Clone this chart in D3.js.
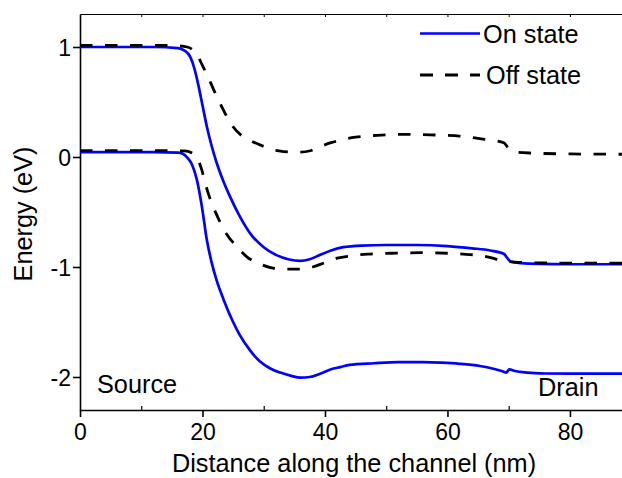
<!DOCTYPE html>
<html>
<head>
<meta charset="utf-8">
<script src="https://cdn.jsdelivr.net/npm/d3@7"></script>
<style>
  html, body { margin: 0; padding: 0; background: #fff; }
  svg { display: block; font-family: "Liberation Sans", Arial, Helvetica, sans-serif; }
</style>
</head>
<body>
<svg id="chart" width="622" height="478"></svg>
<script>
// Band edges along the channel, [position (nm), energy (eV)]
const onUpper = [
  [0, 1.0], [12, 1.0], [16, 0.99], [17, 0.97], [18, 0.91], [18.7, 0.80], [19.3, 0.66],
  [20, 0.47], [20.7, 0.28], [21.5, 0.10], [22.3, -0.05], [23.2, -0.19], [24.5, -0.36],
  [26, -0.53], [28, -0.71], [30, -0.82], [32, -0.89], [34, -0.93], [36, -0.945],
  [37.5, -0.93], [39, -0.895], [41, -0.85], [43, -0.82], [46, -0.805], [50, -0.80],
  [55, -0.80], [60, -0.81], [64, -0.83], [67, -0.85], [69.2, -0.88], [69.8, -0.92],
  [70.3, -0.95], [72, -0.965], [75, -0.972], [80, -0.975], [88.5, -0.975]
];
const onLower = [
  [0, 0.045], [12, 0.045], [16, 0.04], [16.8, 0.03], [17.6, -0.01], [18.3, -0.07],
  [19.1, -0.21], [19.9, -0.45], [20.7, -0.75], [21.5, -0.96], [22.3, -1.12], [23.4, -1.29],
  [25, -1.50], [26.1, -1.62], [27.8, -1.76], [29.4, -1.86], [31, -1.92], [32.7, -1.96],
  [34.5, -1.99], [36, -2.005], [37.5, -2.0], [39.2, -1.97], [41, -1.93], [42.5, -1.91],
  [44, -1.89], [48, -1.875], [52, -1.865], [56, -1.865], [59, -1.87], [62, -1.88],
  [65.3, -1.90], [67.5, -1.925], [69.1, -1.95], [69.6, -1.96], [70.1, -1.93], [71, -1.945],
  [73, -1.96], [76, -1.968], [80, -1.97], [88.5, -1.97]
];
const offUpper = [
  [0, 1.015], [12, 1.015], [16, 1.012], [17.5, 1.0], [18.5, 0.97], [19.3, 0.91],
  [20.1, 0.82], [20.7, 0.755], [21.8, 0.615], [22.6, 0.52], [24, 0.365], [25, 0.275],
  [26.5, 0.19], [27.8, 0.15], [29.4, 0.11], [31, 0.075], [32.5, 0.055], [34.5, 0.045],
  [36, 0.045], [37.6, 0.057], [39, 0.09], [41, 0.13], [43, 0.16], [45, 0.18],
  [48.5, 0.197], [52, 0.205], [55, 0.205], [58, 0.20], [62, 0.19], [65.5, 0.165],
  [67.5, 0.15], [69.2, 0.13], [69.8, 0.09], [70.3, 0.06], [71, 0.045], [74, 0.035],
  [80, 0.028], [88.5, 0.025]
];
const offLower = [
  [0, 0.058], [12, 0.058], [17, 0.055], [18.5, 0.03], [19.3, -0.03], [19.9, -0.12],
  [20.4, -0.23], [21, -0.34], [21.8, -0.46], [22.6, -0.56], [23.7, -0.68], [25.6, -0.815],
  [27.2, -0.905], [29.7, -0.98], [31.5, -1.01], [33.8, -1.02], [35.6, -1.02], [38, -1.0],
  [40, -0.96], [42, -0.92], [44, -0.90], [47, -0.883], [51, -0.875], [55.5, -0.87],
  [60, -0.875], [63, -0.885], [65.3, -0.895], [67.4, -0.92], [69, -0.945], [71, -0.955],
  [74, -0.962], [80, -0.965], [88.5, -0.965]
];

const xMajorTicks = [0, 20, 40, 60, 80];
const xMinorTicks = [10, 30, 50, 70];
const xTopTicks = [10, 20, 30, 40, 50, 60, 70, 80];
const yTicks = [-2, -1, 0, 1];

const svg = d3.select("#chart");
const plotLeft = 80, plotRight = 622, plotTop = 14, plotBottom = 410;

const x = d3.scaleLinear().domain([0, 88.5]).range([plotLeft, plotRight]);
const y = d3.scaleLinear().domain([-2.3, 1.3]).range([plotBottom, plotTop]);

const axisColor = "#000";
const tickFont = 23;
const labelFont = 25.3;

// bottom axis, major ticks outward with labels
const gx = svg.append("g").attr("transform", `translate(0,${plotBottom})`)
  .call(d3.axisBottom(x).tickValues(xMajorTicks).tickSize(7).tickSizeOuter(0)
    .tickFormat(d => String(d)));
gx.select(".domain").attr("stroke-width", 1.6);
gx.selectAll(".tick line").attr("stroke-width", 1.6);
gx.selectAll(".tick text").attr("dy", null).attr("y", 30)
  .attr("font-size", tickFont).attr("fill", "#000");

// bottom minor ticks, inward
const gxm = svg.append("g").attr("transform", `translate(0,${plotBottom})`)
  .call(d3.axisBottom(x).tickValues(xMinorTicks).tickSize(-4).tickSizeOuter(0).tickFormat(""));
gxm.select(".domain").remove();
gxm.selectAll(".tick line").attr("stroke-width", 1.2);

// top frame with small inward ticks
const gt = svg.append("g").attr("transform", `translate(0,${plotTop})`)
  .call(d3.axisTop(x).tickValues(xTopTicks).tickSize(-3).tickSizeOuter(0).tickFormat(""));
gt.select(".domain").attr("stroke-width", 1.2);
gt.selectAll(".tick line").attr("stroke-width", 1);

// left axis
const gy = svg.append("g").attr("transform", `translate(${plotLeft},0)`)
  .call(d3.axisLeft(y).tickValues(yTicks).tickSize(7).tickSizeOuter(0)
    .tickFormat(d => String(d)));
gy.select(".domain").attr("stroke-width", 1.6);
gy.selectAll(".tick line").attr("stroke-width", 1.6);
gy.selectAll(".tick text").attr("x", -9).attr("dy", "0.36em")
  .attr("font-size", tickFont).attr("fill", "#000");

svg.selectAll(".domain, .tick line").attr("stroke", axisColor);

// curves
const line = d3.line().x(d => x(d[0])).y(d => y(d[1])).curve(d3.curveMonotoneX);
const blue = "#0000ff";
const dash = "12.5,12.5";

const plot = svg.append("g");
[onUpper, onLower].forEach(s => {
  plot.append("path").datum(s).attr("d", line)
    .attr("fill", "none").attr("stroke", blue).attr("stroke-width", 2.7)
    .attr("stroke-linejoin", "round");
});
[offUpper, offLower].forEach(s => {
  plot.append("path").datum(s).attr("d", line)
    .attr("fill", "none").attr("stroke", "#000").attr("stroke-width", 2.8)
    .attr("stroke-dasharray", dash);
});

// legend
const legend = svg.append("g");
legend.append("line").attr("x1", 420).attr("x2", 480).attr("y1", 33.5).attr("y2", 33.5)
  .attr("stroke", blue).attr("stroke-width", 2.7);
legend.append("text").attr("x", 483).attr("y", 43).attr("font-size", labelFont)
  .text("On state");
legend.append("line").attr("x1", 420).attr("x2", 480).attr("y1", 75).attr("y2", 75)
  .attr("stroke", "#000").attr("stroke-width", 2.8).attr("stroke-dasharray", "13,12");
legend.append("text").attr("x", 486).attr("y", 84).attr("font-size", labelFont)
  .text("Off state");

// region labels
svg.append("text").attr("x", 97).attr("y", 393).attr("font-size", labelFont).text("Source");
svg.append("text").attr("x", 538).attr("y", 396).attr("font-size", labelFont).text("Drain");

// axis titles
svg.append("text").attr("x", 354).attr("y", 472).attr("text-anchor", "middle")
  .attr("font-size", labelFont).text("Distance along the channel (nm)");
svg.append("text").attr("transform", "translate(32,214) rotate(-90)")
  .attr("text-anchor", "middle").attr("font-size", labelFont).text("Energy (eV)");
</script>
</body>
</html>
